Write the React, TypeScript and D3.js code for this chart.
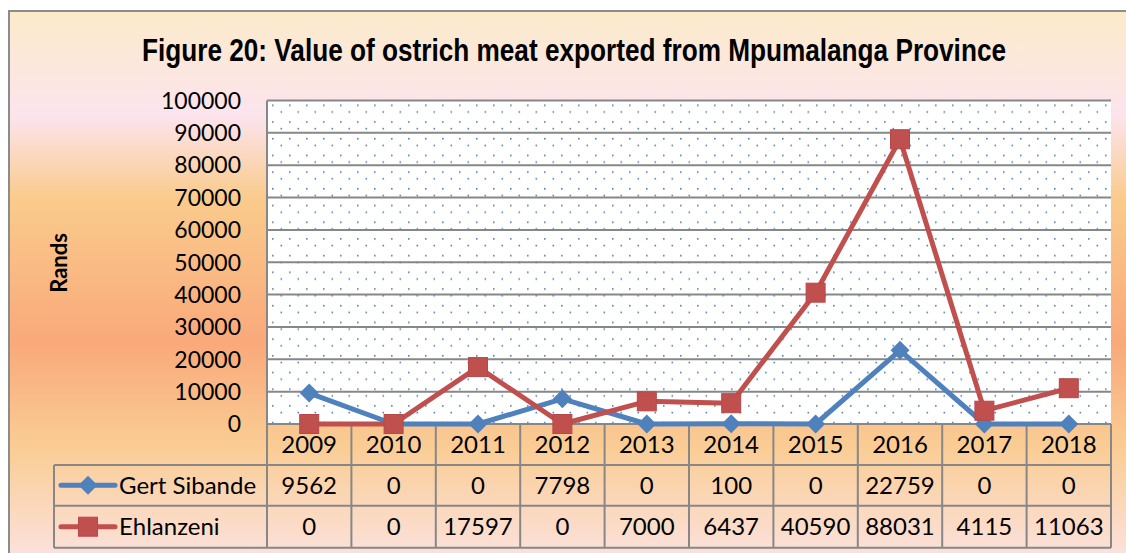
import React from 'react';
import * as d3 from 'd3';

const years = ['2009', '2010', '2011', '2012', '2013', '2014', '2015', '2016', '2017', '2018'];
const gertSibande = [9562, 0, 0, 7798, 0, 100, 0, 22759, 0, 0];
const ehlanzeni = [0, 0, 17597, 0, 7000, 6437, 40590, 88031, 4115, 11063];
const yTicks = [0, 10000, 20000, 30000, 40000, 50000, 60000, 70000, 80000, 90000, 100000];

const series = [
  { name: 'Gert Sibande', values: gertSibande, color: '#4F81BD', marker: 'diamond' },
  { name: 'Ehlanzeni', values: ehlanzeni, color: '#C0504D', marker: 'square' },
];

const W = 1126;
const H = 553;
const plot = { left: 267, right: 1111, top: 100.5, bottom: 424 };
const rowH = [424, 465, 505.7, 547.7];
const legendLeft = 54;
const gridColor = '#878787';
const bodyFont = 'Lato, "Open Sans", sans-serif';

export default function App() {
  const x = d3.scaleBand<string>().domain(years).range([plot.left, plot.right]);
  const y = d3.scaleLinear().domain([0, 100000]).range([plot.bottom, plot.top]);
  const cx = (yr: string) => (x(yr) as number) + x.bandwidth() / 2;

  const lineGen = (vals: number[]) =>
    d3.line<number>()
      .x((_, i) => cx(years[i]))
      .y(d => y(d))(vals) as string;

  const marker = (kind: string, px: number, py: number, color: string, key: string) =>
    kind === 'diamond' ? (
      <path key={key} d={`M${px},${py - 9.5}L${px + 9.5},${py}L${px},${py + 9.5}L${px - 9.5},${py}Z`} fill={color} />
    ) : (
      <rect key={key} x={px - 9.5} y={py - 9.5} width={19} height={19} fill={color} stroke="#B8474A" strokeWidth={1} />
    );

  return (
    <>
      <style>{'html,body{margin:0;padding:0;overflow:hidden;background:#fff}'}</style>
      <svg width={W} height={H} style={{ display: 'block' }}>
        <defs>
          <linearGradient id="bg" gradientUnits="userSpaceOnUse" x1="0" y1="10" x2="0" y2="565">
            <stop offset="0" stopColor="#FBEBCA" />
            <stop offset="0.19" stopColor="#FCE4EE" />
            <stop offset="0.34" stopColor="#FACB8C" />
            <stop offset="0.6" stopColor="#F9A97A" />
            <stop offset="0.79" stopColor="#FACD95" />
            <stop offset="1" stopColor="#FCE3E2" />
          </linearGradient>
          <pattern id="dots" patternUnits="userSpaceOnUse" x={plot.left + 5} y={plot.top + 4} width={17} height={16.7}>
            <rect x={0} y={0} width={1.6} height={1.6} fill="#4F81BD" />
            <rect x={8.5} y={6.7} width={1.6} height={1.6} fill="#4F81BD" />
          </pattern>
        </defs>

        <rect x={9} y={11} width={W} height={H} fill="url(#bg)" />
        <line x1={9} x2={W} y1={11} y2={11} stroke="#8C8C8C" strokeWidth={2} />
        <line x1={9} x2={9} y1={10} y2={H} stroke="#8C8C8C" strokeWidth={2} />

        <text
          x={574}
          y={61}
          textAnchor="middle"
          fontFamily='"Liberation Sans Narrow", "Arial Narrow", "Liberation Sans", Arial, sans-serif'
          fontWeight="bold"
          fontSize={31}
          textLength={864}
          lengthAdjust="spacingAndGlyphs"
          fill="#000"
        >
          Figure 20: Value of ostrich meat exported from Mpumalanga Province
        </text>

        <text
          transform={`translate(67,263) rotate(-90)`}
          textAnchor="middle"
          fontFamily={bodyFont}
          fontWeight="bold"
          fontSize={22}
          fill="#000"
        >
          Rands
        </text>

        {/* plot area */}
        <rect x={plot.left} y={plot.top} width={plot.right - plot.left} height={plot.bottom - plot.top} fill="#fff" />
        <rect x={plot.left} y={plot.top} width={plot.right - plot.left} height={plot.bottom - plot.top} fill="url(#dots)" />

        {yTicks.map(t => (
          <g key={t}>
            <line x1={plot.left} x2={plot.right} y1={y(t)} y2={y(t)} stroke={gridColor} strokeWidth={2} />
            <text x={241} y={y(t)} dy="0.36em" textAnchor="end" fontFamily={bodyFont} fontSize={23} fill="#000">
              {t}
            </text>
          </g>
        ))}
        <line x1={plot.left} x2={plot.left} y1={plot.top} y2={plot.bottom} stroke={gridColor} strokeWidth={2} />

        {/* data table */}
        <g stroke={gridColor} strokeWidth={2}>
          {rowH.slice(1).map(r => (
            <line key={r} x1={legendLeft} x2={plot.right} y1={r} y2={r} />
          ))}
          <line x1={legendLeft} x2={legendLeft} y1={rowH[1]} y2={rowH[3]} />
          {years.map(yr => (
            <line key={yr} x1={x(yr)} x2={x(yr)} y1={rowH[0]} y2={rowH[3]} />
          ))}
          <line x1={plot.right} x2={plot.right} y1={rowH[0]} y2={rowH[3]} />
        </g>
        {years.map(yr => (
          <text key={yr} x={cx(yr)} y={(rowH[0] + rowH[1]) / 2} dy="0.36em" textAnchor="middle" fontFamily={bodyFont} fontSize={24} fill="#000">
            {yr}
          </text>
        ))}
        {series.map((s, si) => {
          const my = (rowH[si + 1] + rowH[si + 2]) / 2;
          return (
            <g key={s.name}>
              <line x1={61} x2={115} y1={my} y2={my} stroke={s.color} strokeWidth={5} strokeLinecap="round" />
              {marker(s.marker, 88, my, s.color, 'lg')}
              <text x={119} y={my} dy="0.36em" fontFamily={bodyFont} fontSize={24} fill="#000">
                {s.name}
              </text>
              {s.values.map((v, i) => (
                <text key={i} x={cx(years[i])} y={my} dy="0.36em" textAnchor="middle" fontFamily={bodyFont} fontSize={24} fill="#000">
                  {v}
                </text>
              ))}
            </g>
          );
        })}

        {/* series */}
        {series.map(s => (
          <g key={s.name}>
            <path d={lineGen(s.values)} fill="none" stroke={s.color} strokeWidth={5} strokeLinejoin="round" strokeLinecap="round" />
            {s.values.map((v, i) => marker(s.marker, cx(years[i]), y(v), s.color, String(i)))}
          </g>
        ))}
      </svg>
    </>
  );
}
